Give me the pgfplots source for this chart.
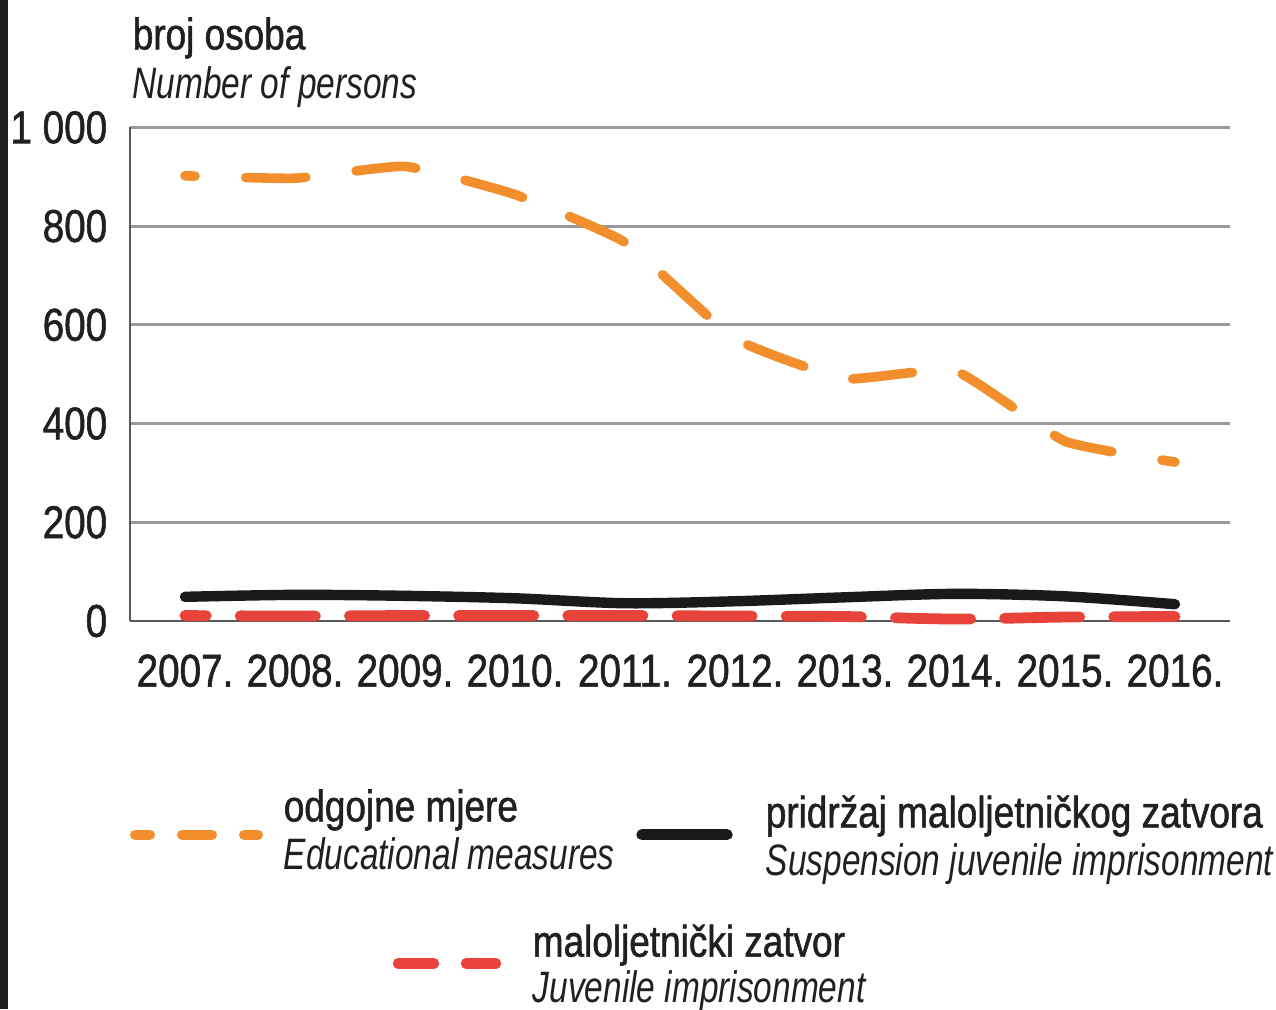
\documentclass[border=0pt]{standalone}
\usepackage{fontspec}
\setmainfont{Liberation Sans}[FakeStretch=0.84, FakeBold=1.2]
\newfontfamily\itfont{Liberation Sans}[FakeStretch=0.76]
\usepackage{pgfplots}
\pgfplotsset{compat=1.18}
\definecolor{corange}{RGB}{242,143,44}
\definecolor{cred}{RGB}{232,67,58}
\definecolor{cblack}{RGB}{26,26,26}
\definecolor{ctext}{RGB}{35,31,32}
\begin{document}
\begin{tikzpicture}
\useasboundingbox (-32.5pt,-97pt) rectangle (286.5pt,155.25pt);
\fill[black!88] (-32.5pt,-97pt) rectangle (-30.6pt,155.25pt);
\begin{axis}[
  at={(0,0)}, anchor=south west, scale only axis,
  width=275pt, height=123.4pt,
  xmin=-0.5, xmax=9.5, ymin=0, ymax=1000,
  axis x line=bottom, axis y line=left,
  axis line style={-, draw=black!65, line width=0.6pt},
  xtick={0,...,9},
  xticklabels={2007.,2008.,2009.,2010.,2011.,2012.,2013.,2014.,2015.,2016.},
  ytick={0,200,400,600,800,1000},
  yticklabels={0,200,400,600,800,{1\ 000}},
  major tick length=0pt,
  ymajorgrids, grid style={draw=black!40, line width=0.7pt},
  tick label style={font=\fontsize{11.5}{13}\selectfont, text=ctext, inner sep=0pt},
  xticklabel style={anchor=base, yshift=-16.4pt},
  yticklabel style={anchor=east, xshift=-5.5pt},
  clip=false,
]
\addplot[corange, line width=2.4pt, line cap=round, line join=round, smooth, tension=0.25,
  dash pattern=on 15pt off 12.7pt, dash phase=12.5pt]
  coordinates {(0,902)(1,897)(2,921)(3,864)(4,767)(5,572)(6,491)(7,507)(8,364)(9,322)};
\addplot[cblack, line width=2.6pt, line cap=round, smooth, tension=0.5]
  coordinates {(0,49)(1,53)(2,51)(3,46)(4,36)(5,40)(6,48)(7,55)(8,50)(9,34)};
\addplot[cred, line width=2.7pt, line cap=round, smooth, tension=0.5,
  dash pattern=on 18.8pt off 8.5pt, dash phase=13.5pt]
  coordinates {(0,11)(1,10)(2,11)(3,11)(4,11)(5,10)(6,9)(7,4)(8,8)(9,9)};
\end{axis}
\begin{scope}[every node/.style={anchor=base west, inner sep=0pt, text=ctext}]
\node[font=\fontsize{11}{13}\selectfont] at (0.5pt,142.9pt) {broj osoba};
\node[font=\itfont\itshape\fontsize{11}{13}\selectfont] at (0.5pt,130.6pt) {Number of persons};
\draw[corange, line width=2.5pt, line cap=round, dash pattern=on 7.5pt off 8pt, dash phase=3.75pt]
  (1.25pt,-53.4pt) -- (32pt,-53.4pt);
\node[font=\fontsize{11}{13}\selectfont] at (38.25pt,-50.1pt) {odgojne mjere};
\node[font=\itfont\itshape\fontsize{11}{13}\selectfont] at (38.25pt,-62pt) {Educational measures};
\draw[cblack, line width=2.8pt, line cap=round] (128pt,-53.4pt) -- (149.25pt,-53.4pt);
\node[font=\fontsize{11}{13}\selectfont] at (158.75pt,-51.6pt) {pridržaj maloljetničkog zatvora};
\node[font=\itfont\itshape\fontsize{11}{13}\selectfont] at (158.75pt,-63.6pt) {Suspension juvenile imprisonment};
\draw[cred, line width=2.6pt, line cap=round, dash pattern=on 9pt off 8pt]
  (67pt,-85.6pt) -- (91.5pt,-85.6pt);
\node[font=\fontsize{11}{13}\selectfont] at (100.5pt,-83.9pt) {maloljetnički zatvor};
\node[font=\itfont\itshape\fontsize{11}{13}\selectfont] at (100.5pt,-95.4pt) {Juvenile imprisonment};
\end{scope}
\end{tikzpicture}
\end{document}
